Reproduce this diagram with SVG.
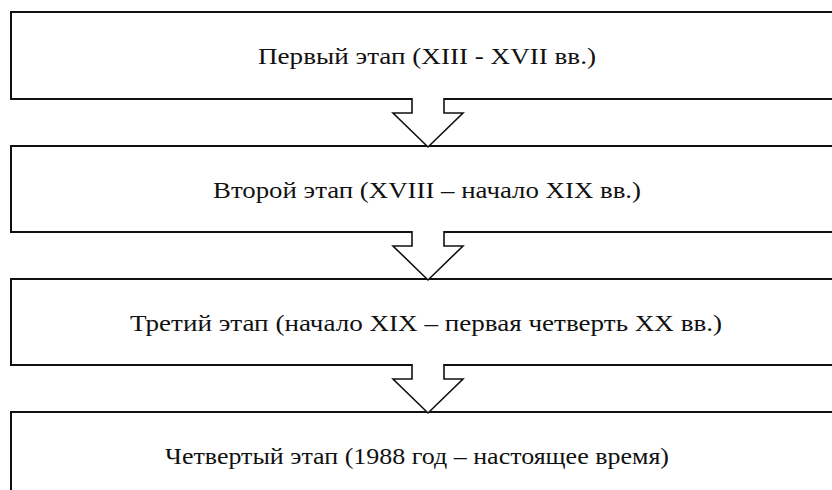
<svg xmlns="http://www.w3.org/2000/svg" width="832" height="490" viewBox="0 0 832 490">
  <style>
    .box { fill: #ffffff; stroke: #111111; stroke-width: 2; }
    .arrow { fill: #ffffff; stroke: #111111; stroke-width: 1.6; stroke-linejoin: miter; }
    .label { font-family: "Liberation Serif", "DejaVu Serif", serif; font-size: 24px; fill: #111111; }
  </style>
  <rect width="832" height="490" fill="#ffffff"/>

  <!-- stage boxes run off the right edge, so only left, top and bottom sides show -->
  <g id="stage1">
    <rect class="box" x="11" y="12" width="840" height="87"/>
    <text class="label" x="258" y="64" textLength="338" lengthAdjust="spacingAndGlyphs">Первый этап (XIII - XVII вв.)</text>
  </g>
  <g id="stage2">
    <rect class="box" x="11" y="146" width="840" height="86"/>
    <text class="label" x="213" y="198" textLength="428" lengthAdjust="spacingAndGlyphs">Второй этап (XVIII – начало XIX вв.)</text>
  </g>
  <g id="stage3">
    <rect class="box" x="11" y="279" width="840" height="86"/>
    <text class="label" x="130" y="331" textLength="592" lengthAdjust="spacingAndGlyphs">Третий этап (начало XIX – первая четверть XX вв.)</text>
  </g>
  <g id="stage4">
    <rect class="box" x="11" y="412" width="840" height="100"/>
    <text class="label" x="165" y="464" textLength="504" lengthAdjust="spacingAndGlyphs">Четвертый этап (1988 год – настоящее время)</text>
  </g>

  <!-- hollow block arrows; white fill breaks the box edge under the shaft -->
  <g id="connectors">
    <path class="arrow" d="M412,98 V113 H393 L428,147 L463,113 H444 V98"/>
    <path class="arrow" d="M412,231 V246 H393 L428,280 L463,246 H444 V231"/>
    <path class="arrow" d="M412,364 V379 H393 L428,413 L463,379 H444 V364"/>
  </g>
</svg>
